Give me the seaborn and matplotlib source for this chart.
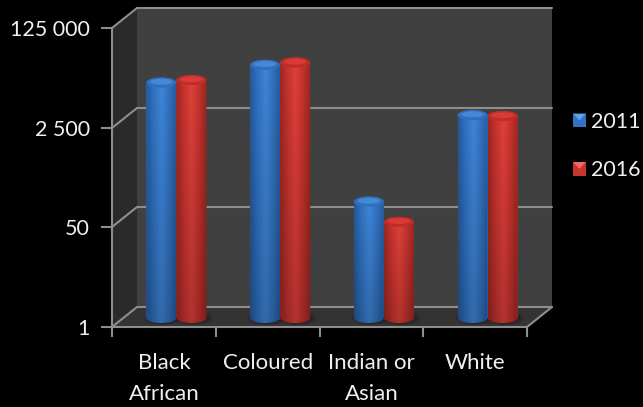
import numpy as np
import pandas as pd
import matplotlib
matplotlib.use("Agg")
import matplotlib.pyplot as plt
from matplotlib.patches import Ellipse, Polygon
from matplotlib.colors import LinearSegmentedColormap
import seaborn as sns

categories = ["Black\nAfrican", "Coloured", "Indian or\nAsian", "White"]
years = ["2011", "2016"]
values_2011 = [10000, 20000, 95, 2800]
values_2016 = [11000, 22000, 43, 2700]
tick_values = [1, 50, 2500, 125000]
tick_labels = ["1", "50", "2 500", "125 000"]

W, H = 643, 407
FONT = "Lato"
TEXT = "#f0f0f0"
LINE = "#8e8e8e"

sns.set_theme(style="white")
plt.rcParams["font.family"] = [FONT, "DejaVu Sans"]

fig = plt.figure(figsize=(W / 100, H / 100), dpi=100, facecolor="black")


def box(left, top, right, bottom):
    return [left / W, 1 - bottom / H, (right - left) / W, (bottom - top) / H]


# Pixel-space layer holding the box walls and floor
walls = fig.add_axes([0, 0, 1, 1], zorder=0)
walls.set_xlim(0, W)
walls.set_ylim(H, 0)
walls.axis("off")
walls.add_patch(Polygon([(137, 8), (552, 8), (552, 307), (137, 307)], fc="#404040", ec="none"))
walls.add_patch(Polygon([(112, 28), (137, 8), (137, 307), (112, 327)], fc="#2a2a2a", ec="none"))
walls.add_patch(Polygon([(112, 327), (137, 307), (552, 307), (527, 327)], fc="#333333", ec="none"))
for back_y in (8, 108, 207, 307):
    walls.plot([112, 137, 552], [back_y + 20, back_y, back_y], color=LINE, lw=1.5,
               solid_joinstyle="miter")
walls.plot([527, 552], [327, 307], color=LINE, lw=1.5)

# Bars sit mid-way through the depth of the box
bars_ax = fig.add_axes(box(124.5, 18, 539.5, 318), zorder=1)
bars_ax.patch.set_alpha(0)
df = pd.DataFrame({
    "group": categories * 2,
    "year": [years[0]] * 4 + [years[1]] * 4,
    "value": values_2011 + values_2016,
})
sns.barplot(data=df, x="group", y="value", hue="year", ax=bars_ax, width=0.58, gap=0,
            palette=["#3273c4", "#c8352f"], errorbar=None, saturation=1,
            edgecolor="none", linewidth=0)
bars_ax.set_yscale("log", base=50)
bars_ax.set_ylim(tick_values[0], tick_values[-1])
bars_ax.set_xlim(-0.5, 3.5)
bars_ax.axis("off")

sns.move_legend(bars_ax, "upper left", bbox_to_anchor=((573 - 124.5) / 415, (318 - 112) / 300),
                frameon=False, title=None, fontsize=15.5, labelcolor=TEXT,
                handlelength=0.6, handleheight=0.6, handletextpad=0.25,
                labelspacing=1.32, borderpad=0, borderaxespad=0)
for handle in bars_ax.get_legend().get_patches():
    handle.set_edgecolor("none")
    handle.set_linewidth(0)

# Cylinder shading, placed from the bar geometry
shade = fig.add_axes([0, 0, 1, 1], zorder=2)
shade.patch.set_alpha(0)
shade.axis("off")

ramps = {
    0: (["#25599c", "#3273c2", "#3e86da", "#3272bf", "#25589a"], "#4389d8", "#2f6fbd"),
    1: (["#9c2723", "#c8332e", "#e0403a", "#c4322d", "#98261f"], "#d83a35", "#c02d29"),
}
RY = 5.0
base_y = bars_ax.transData.transform((0, tick_values[0]))[1]
for s, container in enumerate(bars_ax.containers):
    stops, cap_hi, cap_lo = ramps[s]
    cmap = LinearSegmentedColormap.from_list(f"cyl{s}", stops)
    for bar in container:
        (x0, y_top), (x1, _) = bars_ax.transData.transform(
            [(bar.get_x(), bar.get_height()), (bar.get_x() + bar.get_width(), tick_values[0])]
        )
        top = H - y_top
        base = H - base_y
        cx, rx = (x0 + x1) / 2, (x1 - x0) / 2

        # soft contact shadow on the floor
        for grow, alpha in ((10, 0.06), (6, 0.09), (3, 0.12)):
            walls.add_patch(Ellipse((cx + 2, base), 2 * rx + grow, 2 * RY + grow / 2,
                                    fc="black", alpha=alpha, ec="none"))

        t = np.linspace(0, np.pi, 40)
        lower = np.c_[cx + rx * np.cos(t), base + RY * np.sin(t)]
        upper = np.c_[cx - rx * np.cos(t), top - RY * np.sin(t)]
        body = Polygon(np.r_[lower, upper], closed=True, transform=shade.transData, fc="none", ec="none")
        shade.add_patch(body)
        u = np.linspace(0, 1, 64)
        v = np.linspace(1, 0.80, 32)
        colours = cmap(u)[None, :, :].repeat(32, axis=0)
        colours[..., :3] *= v[:, None, None]
        im = shade.imshow(colours, extent=(x0, x1, base + RY, top - RY), aspect="auto",
                          interpolation="bilinear", zorder=2)
        im.set_clip_path(body)

        shade.add_patch(Ellipse((cx, top), 2 * rx, 2 * RY, fc=cap_lo, ec="none", zorder=3))
        shade.add_patch(Ellipse((cx, top - 0.8), 1.5 * rx, 1.2 * RY, fc=cap_hi, ec="none", zorder=3))

# Bevel on the legend keys
legend = bars_ax.get_legend()
fig.canvas.draw()
for handle, lighter in zip(legend.get_patches(), ("#5aa4ee", "#ee6a62")):
    bb = handle.get_window_extent()
    a, b = bb.x0, bb.x1
    t, u = H - bb.y1, H - bb.y0
    shade.add_patch(Polygon([(a, t), (b, t), ((a + b) / 2, (t + u) / 2)], fc=lighter, ec="none", zorder=3))

shade.set_xlim(0, W)
shade.set_ylim(H, 0)

# Front axis frame with tick labels
front = fig.add_axes(box(112, 28, 527, 327), zorder=3)
front.patch.set_alpha(0)
front.set_yscale("log", base=50)
front.set_ylim(tick_values[0], tick_values[-1])
front.set_xlim(-0.5, 3.5)
front.set_yticks(tick_values, tick_labels)
front.minorticks_off()
front.set_xticks(np.arange(-0.5, 4), [""] * 5)
front.set_xticks(range(4), categories, minor=True)
front.tick_params(axis="x", which="minor", length=0, pad=19, labelsize=16, colors=TEXT)
front.tick_params(axis="x", which="major", length=7, width=1.5, color=LINE, labelbottom=False, bottom=True)
front.tick_params(axis="y", which="major", length=8, width=1.5, color=LINE, labelsize=15.5,
                  labelcolor=TEXT, pad=8, left=True)
for label in front.get_xticklabels(minor=True):
    label.set_linespacing(1.65)
    label.set_va("top")
for side, spine in front.spines.items():
    spine.set_visible(side in ("left", "bottom"))
    spine.set_color(LINE)
    spine.set_linewidth(1.5)

fig.savefig("out.png", dpi=100, facecolor="black")
